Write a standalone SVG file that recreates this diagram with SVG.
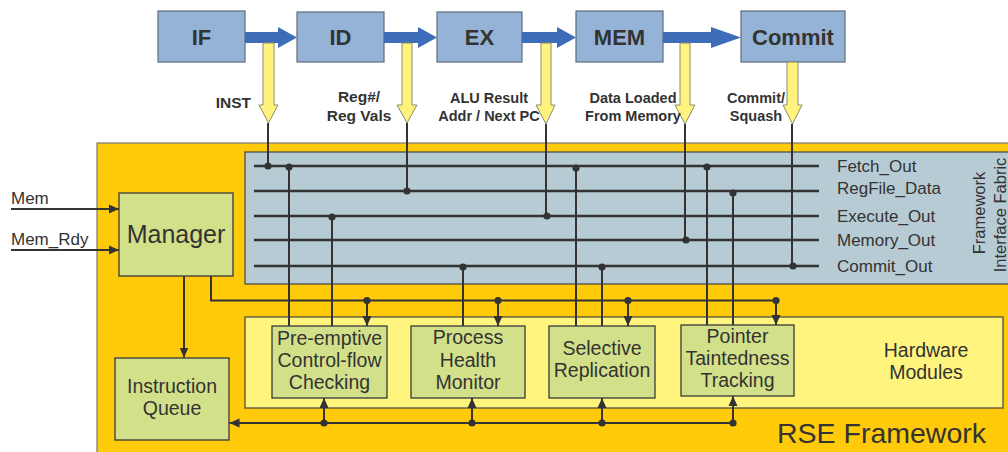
<svg xmlns="http://www.w3.org/2000/svg" width="1008" height="452" viewBox="0 0 1008 452">
  <style>
    .stage{fill:#95B3D7;stroke:#5E6B7D;stroke-width:1.2}
    .stxt{font-family:"Liberation Sans",Arial,sans-serif;font-weight:bold;font-size:22px;fill:#333;text-anchor:middle}
    .blue{fill:#3D6CB9}
    .yel{fill:#FFF37E;stroke:#8A8A70;stroke-width:1}
    .lbl{font-family:"Liberation Sans",Arial,sans-serif;font-weight:bold;font-size:14.5px;fill:#333;text-anchor:middle}
    .mod{fill:#D3E08A;stroke:#3A3A3A;stroke-width:1.3}
    .mtxt{font-family:"Liberation Sans",Arial,sans-serif;font-size:19.5px;fill:#333;text-anchor:middle}
    .bus{stroke:#333;stroke-width:2.6;fill:none}
    .wire{stroke:#333;stroke-width:2;fill:none}
    .dot{fill:#333}
    .sig{font-family:"Liberation Sans",Arial,sans-serif;font-size:17px;fill:#333}
  </style>
  <defs>
    <marker id="ah" markerUnits="userSpaceOnUse" markerWidth="10" markerHeight="10" viewBox="0 0 10 10" refX="10" refY="5" orient="auto">
      <path d="M0,0.5 L10,5 L0,9.5 Z" fill="#333"/>
    </marker>
  </defs>

  <!-- RSE framework background -->
  <rect id="rse" x="97" y="143" width="915" height="315" fill="#FFCA0A" stroke="#777" stroke-width="1.2"/>
  <text class="sig" x="777" y="443" style="font-size:28.5px">RSE Framework</text>

  <!-- framework interface fabric -->
  <g id="fabric">
    <rect x="245" y="152" width="770" height="132" fill="#B7CBD4" stroke="#444" stroke-width="1.2"/>
    <text class="sig" transform="translate(985,213) rotate(-90)" text-anchor="middle" style="font-size:16.5px">Framework</text>
    <text class="sig" transform="translate(1006,215) rotate(-90)" text-anchor="middle" style="font-size:16.5px">Interface Fabric</text>
  </g>

  <!-- hardware modules area -->
  <g id="hw">
    <rect x="245" y="317" width="758" height="91" fill="#FFF47E" stroke="#444" stroke-width="1.2"/>
    <text class="mtxt" x="926" y="357">Hardware</text>
    <text class="mtxt" x="926" y="379">Modules</text>
  </g>

  <!-- pipeline stages -->
  <g id="stage-if"><rect class="stage" x="158" y="11" width="87" height="51"/><text class="stxt" x="201.5" y="45">IF</text></g>
  <g id="stage-id"><rect class="stage" x="297" y="12" width="87" height="50"/><text class="stxt" x="340.5" y="45">ID</text></g>
  <g id="stage-ex"><rect class="stage" x="437" y="12" width="85" height="50"/><text class="stxt" x="479.5" y="45">EX</text></g>
  <g id="stage-mem"><rect class="stage" x="576" y="11" width="87" height="51"/><text class="stxt" x="619.5" y="45">MEM</text></g>
  <g id="stage-commit"><rect class="stage" x="741" y="11" width="104" height="51"/><text class="stxt" x="793" y="45">Commit</text></g>

  <!-- stage-to-stage arrows and taps into the fabric -->
  <g id="connectors">
    <polygon class="blue" points="245,32 278,32 278,27 297,37.5 278,48 278,43 245,43"/>
    <polygon class="blue" points="384,32 418,32 418,27 437,37.5 418,48 418,43 384,43"/>
    <polygon class="blue" points="522,32 557,32 557,27 576,37.5 557,48 557,43 522,43"/>
    <polygon class="blue" points="663,32 711,32 711,27 741,37.5 711,48 711,43 663,43"/>

    <!-- yellow taps -->
    <polygon class="yel" points="263,43 274,43 274,105 278,105 268.5,123 259,105 263,105"/>
    <polygon class="yel" points="402,43 412,43 412,105 417,105 407,123 397,105 402,105"/>
    <polygon class="yel" points="541,43 551,43 551,105 555,105 546,124 536,105 541,105"/>
    <polygon class="yel" points="680,43 690,43 690,105 695,105 685,124 675,105 680,105"/>
    <polygon class="yel" points="787,62 798,62 798,105 802,105 792.5,124 783,105 787,105"/>

    <!-- tap wires -->
    <path class="wire" d="M268,123 V166 M407,123 V191 M546,124 V216 M685,124 V240 M792,124 V266"/>

    <!-- fabric buses -->
    <path class="bus" d="M254,166 H819 M254,191 H819 M254,216 H819 M254,240 H819 M254,266 H819"/>

    <!-- fabric to modules -->
    <path class="wire" d="M289,166 V326 M332,216 V326 M463,266 V326 M576,166 V326 M602,266 V326 M707,166 V325 M733,191 V325"/>

    <!-- manager control bus -->
    <path class="wire" d="M211,276 V300.5 H776"/>
    <path class="wire" marker-end="url(#ah)" d="M367,300.5 V326"/>
    <path class="wire" marker-end="url(#ah)" d="M498,300.5 V326"/>
    <path class="wire" marker-end="url(#ah)" d="M628,300.5 V326"/>
    <path class="wire" marker-end="url(#ah)" d="M776,300.5 V325"/>
    <path class="wire" marker-end="url(#ah)" d="M184,276 V357.5"/>

    <!-- module feedback bus to instruction queue -->
    <path class="wire" marker-end="url(#ah)" d="M733,423 H229.5"/>
    <path class="wire" marker-end="url(#ah)" d="M324,423 V398"/>
    <path class="wire" marker-end="url(#ah)" d="M472,423 V398"/>
    <path class="wire" marker-end="url(#ah)" d="M602,423 V398"/>
    <path class="wire" marker-end="url(#ah)" d="M733,423 V396"/>

    <!-- memory inputs -->
    <path class="wire" marker-end="url(#ah)" d="M11,209 H119"/>
    <path class="wire" marker-end="url(#ah)" d="M11,250 H119"/>

    <!-- junction dots -->
    <g class="dot">
      <circle cx="268" cy="166" r="3.6"/><circle cx="289" cy="167" r="3.6"/>
      <circle cx="576" cy="168" r="3.6"/><circle cx="707" cy="167" r="3.6"/>
      <circle cx="407" cy="191" r="3.6"/><circle cx="733" cy="193" r="3.6"/>
      <circle cx="332" cy="217" r="3.6"/><circle cx="547" cy="216" r="3.6"/>
      <circle cx="686" cy="240" r="3.6"/>
      <circle cx="463" cy="267" r="3.6"/><circle cx="602" cy="267" r="3.6"/><circle cx="793" cy="266" r="3.6"/>
      <circle cx="367" cy="300.5" r="3.6"/><circle cx="498" cy="300.5" r="3.6"/>
      <circle cx="628" cy="300.5" r="3.6"/><circle cx="776" cy="300.5" r="3.6"/>
      <circle cx="324" cy="423" r="3.6"/><circle cx="472" cy="423" r="3.6"/>
      <circle cx="602" cy="423" r="3.6"/><circle cx="733" cy="423" r="3.6"/>
    </g>
  </g>

  <!-- tap labels -->
  <text class="lbl" x="251" y="108" style="text-anchor:end;font-size:15.5px">INST</text>
  <text class="lbl" x="359" y="102" style="font-size:15.5px">Reg#/</text>
  <text class="lbl" x="359" y="121" style="font-size:15.5px">Reg Vals</text>
  <text class="lbl" x="489" y="103">ALU Result</text>
  <text class="lbl" x="489" y="121">Addr / Next PC</text>
  <text class="lbl" x="633" y="103">Data Loaded</text>
  <text class="lbl" x="633" y="121">From Memory</text>
  <text class="lbl" x="756" y="103">Commit/</text>
  <text class="lbl" x="756" y="121">Squash</text>

  <!-- bus names -->
  <text class="sig" x="837" y="172">Fetch_Out</text>
  <text class="sig" x="837" y="194">RegFile_Data</text>
  <text class="sig" x="837" y="222">Execute_Out</text>
  <text class="sig" x="837" y="246">Memory_Out</text>
  <text class="sig" x="837" y="272">Commit_Out</text>

  <!-- external inputs -->
  <text class="sig" x="11" y="204">Mem</text>
  <text class="sig" x="11" y="245">Mem_Rdy</text>

  <!-- manager and queue -->
  <g id="manager"><rect class="mod" x="119" y="193" width="114" height="83"/><text class="mtxt" x="176" y="243" style="font-size:25px">Manager</text></g>
  <g id="iqueue"><rect class="mod" x="115" y="358" width="114" height="82"/><text class="mtxt" x="172" y="393">Instruction</text><text class="mtxt" x="172" y="415">Queue</text></g>

  <!-- hardware modules -->
  <g id="pcc"><rect class="mod" x="272" y="326" width="115" height="72"/><text class="mtxt" x="329.5" y="345">Pre-emptive</text><text class="mtxt" x="329.5" y="367">Control-flow</text><text class="mtxt" x="329.5" y="389">Checking</text></g>
  <g id="phm"><rect class="mod" x="411" y="326" width="114" height="72"/><text class="mtxt" x="468" y="344">Process</text><text class="mtxt" x="468" y="367">Health</text><text class="mtxt" x="468" y="389">Monitor</text></g>
  <g id="sr"><rect class="mod" x="549" y="326" width="106" height="72"/><text class="mtxt" x="602" y="355">Selective</text><text class="mtxt" x="602" y="377">Replication</text></g>
  <g id="ptt"><rect class="mod" x="681" y="325" width="113" height="71"/><text class="mtxt" x="737.5" y="343">Pointer</text><text class="mtxt" x="737.5" y="365">Taintedness</text><text class="mtxt" x="737.5" y="387">Tracking</text></g>
</svg>
